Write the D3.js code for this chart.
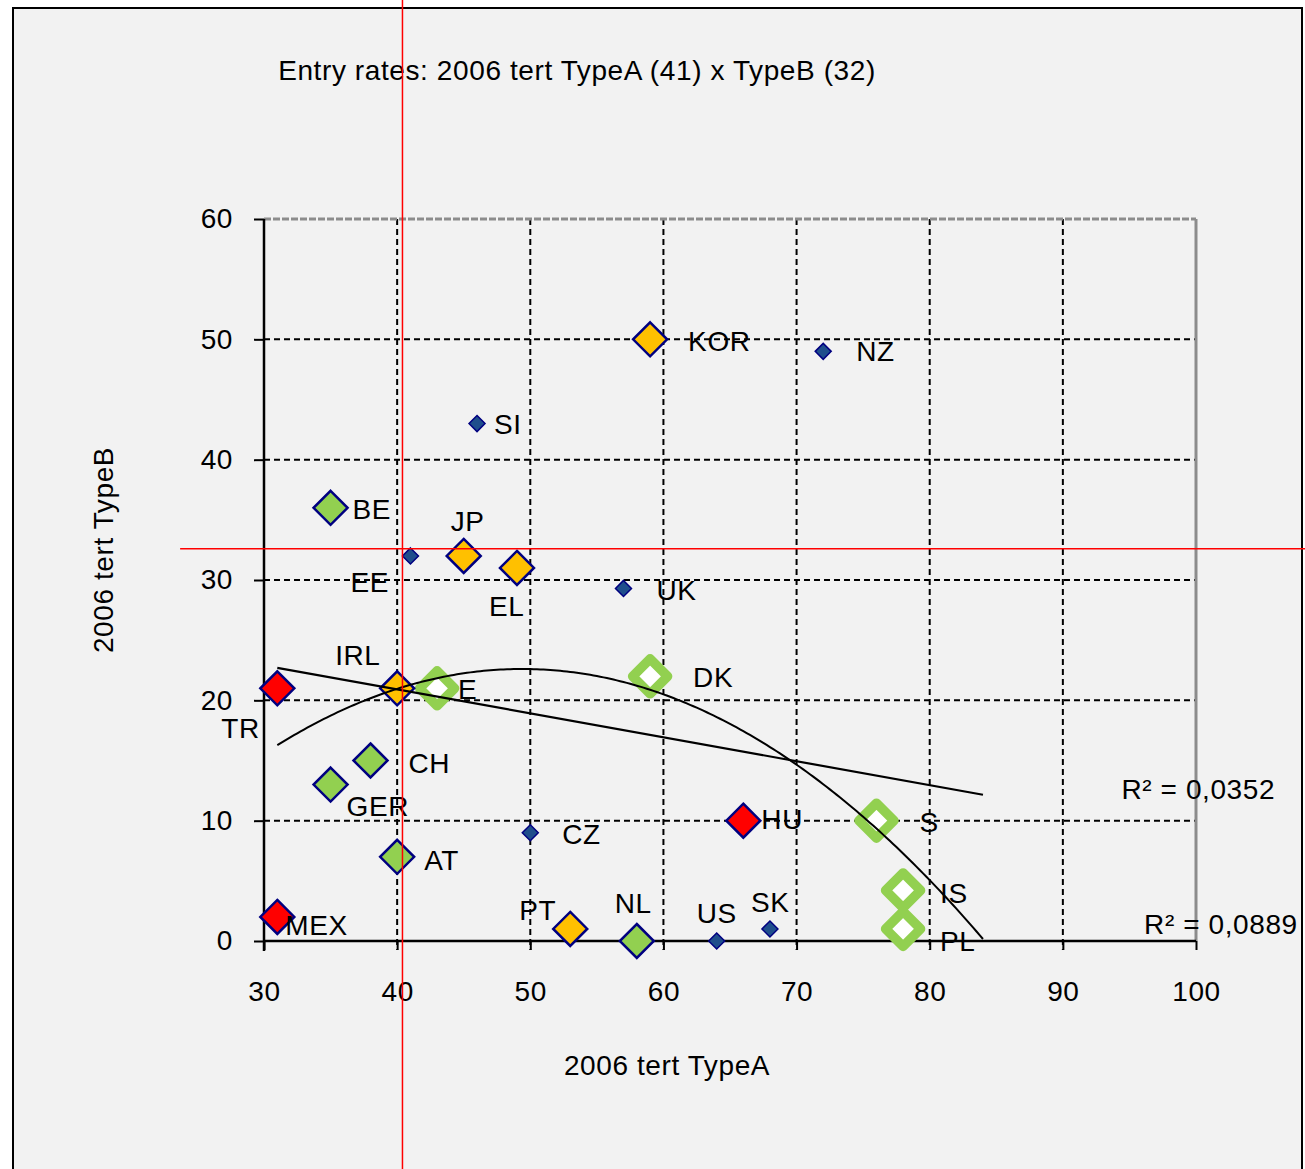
<!DOCTYPE html>
<html><head><meta charset="utf-8">
<script src="https://cdn.jsdelivr.net/npm/d3@7"></script>
<style>
html,body{margin:0;padding:0;background:#fff;}
text{font-family:"Liberation Sans",Arial,sans-serif;fill:#000;}
</style></head>
<body>
<svg id="chart" width="1305" height="1169"></svg>
<script>
// ---- data ----
const titleText = "Entry rates: 2006 tert TypeA (41) x TypeB (32)";
const xTitle = "2006 tert TypeA";
const yTitle = "2006 tert TypeB";
const xTicks = [30,40,50,60,70,80,90,100];
const yTicks = [0,10,20,30,40,50,60];

const orangeNames = ["KOR","JP","EL","IRL","PT"];
const orangeA = [59,45,49,40,53];
const orangeB = [50,32,31,21,1];

const greenNames = ["BE","CH","GER","AT","NL"];
const greenA = [35,38,35,40,58];
const greenB = [36,15,13,7,0];

const redNames = ["TR","HU","MEX"];
const redA = [31,66,31];
const redB = [21,10,2];

const smallNames = ["NZ","SI","EE","UK","CZ","US","SK"];
const smallA = [72,46,41,57,50,64,68];
const smallB = [49,43,32,29.3,9,0,1];

const hollowNames = ["E","DK","S","IS","PL"];
const hollowA = [43,59,76,78,78];
const hollowB = [21,22,10,4.2,1];

// trendlines
const linearCoef = {slope:-0.199, intercept:28.87, x0:31, x1:84};
const polyCoef = {center:50, c0:22.6, c1:-0.02282, c2:-0.018734, x0:31, x1:84.1};
const r2Labels = [{text:"R² = 0,0352", a:94.4, b:12.6},{text:"R² = 0,0889", a:96.1, b:1.4}];
// reference lines (red)
const refA = 40.4, refB = 32.6;

// label offsets (px) relative to marker
const labelOffsets = {
  KOR:[38,2], NZ:[33,0], SI:[17,1], BE:[22,1], EE:[-60,26], JP:[-13,-35], EL:[-28,38],
  UK:[33,2], IRL:[-62,-33], TR:[-56,40], E:[21,1], DK:[43,1], CH:[38,3], GER:[16,22],
  HU:[18,-1], S:[43,2], CZ:[32,1], AT:[27,3], IS:[37,3], PL:[37,12], MEX:[8,8],
  PT:[-51,-19], NL:[-22,-38], US:[-20,-28], SK:[-19,-27]
};

// ---- drawing ----
const svg = d3.select("#chart");
const x = d3.scaleLinear().domain([30,100]).range([264,1196]);
const y = d3.scaleLinear().domain([0,60]).range([941,219]);
const FS = 28;
const LS = "0.6px";

// outer frame
svg.append("rect").attr("x",13).attr("y",8).attr("width",1289).attr("height",1175)
  .attr("fill","#f2f2f2").attr("stroke","#000").attr("stroke-width",2);

// gridlines
const g = svg.append("g");
xTicks.filter(t=>t>30 && t<100).forEach(t=>{
  g.append("line").attr("x1",x(t)).attr("x2",x(t)).attr("y1",y(60)).attr("y2",y(0)+9)
   .attr("stroke","#000").attr("stroke-width",2).attr("stroke-dasharray","6,4");
});
yTicks.filter(t=>t>0 && t<60).forEach(t=>{
  g.append("line").attr("x1",x(30)).attr("x2",x(100)).attr("y1",y(t)).attr("y2",y(t))
   .attr("stroke","#000").attr("stroke-width",2).attr("stroke-dasharray","6,4");
});
// plot border top / right (gray)
g.append("line").attr("x1",x(30)).attr("x2",x(100)).attr("y1",y(60)).attr("y2",y(60))
  .attr("stroke","#8c8c8c").attr("stroke-width",3).attr("stroke-dasharray","7,2");
g.append("line").attr("x1",x(100)).attr("x2",x(100)).attr("y1",y(60)).attr("y2",y(0))
  .attr("stroke","#8c8c8c").attr("stroke-width",3);

// axes
const xAxis = d3.axisBottom(x).tickValues(xTicks).tickSize(9).tickPadding(31).tickFormat(d3.format("d"));
const yAxis = d3.axisLeft(y).tickValues(yTicks).tickSize(10).tickPadding(21).tickFormat(d3.format("d"));
const gx = svg.append("g").attr("transform",`translate(0,${y(0)})`).call(xAxis);
const gy = svg.append("g").attr("transform",`translate(${x(30)},0)`).call(yAxis);
[gx,gy].forEach(a=>{
  a.select(".domain").attr("stroke","#000").attr("stroke-width",2.5);
  a.selectAll(".tick line").attr("stroke","#000").attr("stroke-width",2);
  a.selectAll(".tick text").attr("font-size",FS).attr("font-family","Liberation Sans, Arial, sans-serif")
    .attr("fill","#000").attr("letter-spacing",LS);
});
gx.select(".domain").attr("d",`M${x(30)},0H${x(100)}`);
gy.select(".domain").attr("d",`M0,${y(60)}V${y(0)+10}`);

// markers
function diamond(r){return `M0,${-r}L${r},0L0,${r}L${-r},0Z`;}
function drawSeries(names,A,B,opts){
  names.forEach((n,i)=>{
    svg.append("path").attr("d",diamond(opts.r))
      .attr("transform",`translate(${x(A[i])},${y(B[i])})`)
      .attr("fill",opts.fill).attr("stroke",opts.stroke).attr("stroke-width",opts.sw)
      .attr("stroke-linejoin",opts.join||"miter");
  });
}
drawSeries(hollowNames,hollowA,hollowB,{r:17.5,fill:"#ffffff",stroke:"#92d050",sw:9.5,join:"round"});
drawSeries(greenNames,greenA,greenB,{r:17,fill:"#92d050",stroke:"#000080",sw:2.5});
drawSeries(orangeNames,orangeA,orangeB,{r:17,fill:"#ffc000",stroke:"#000080",sw:2.5});
drawSeries(redNames,redA,redB,{r:17,fill:"#ff0000",stroke:"#000080",sw:2.5});
drawSeries(smallNames,smallA,smallB,{r:8,fill:"#1f4e8c",stroke:"#000080",sw:1.5});

// trendlines
const lin = d3.line().x(d=>x(d[0])).y(d=>y(d[1]));
svg.append("path").attr("d",lin([[linearCoef.x0, linearCoef.slope*linearCoef.x0+linearCoef.intercept],
                                 [linearCoef.x1, linearCoef.slope*linearCoef.x1+linearCoef.intercept]]))
  .attr("stroke","#000").attr("stroke-width",2.2).attr("fill","none");
const polyPts = d3.range(polyCoef.x0, polyCoef.x1+0.001, 0.25).map(a=>{
  const t=a-polyCoef.center; return [a, Math.max(0,polyCoef.c0+polyCoef.c1*t+polyCoef.c2*t*t)];
});
svg.append("path").attr("d",lin(polyPts)).attr("stroke","#000").attr("stroke-width",2).attr("fill","none");

// labels
function drawLabels(names,A,B){
  names.forEach((n,i)=>{
    const o = labelOffsets[n];
    svg.append("text").attr("x",x(A[i])+o[0]).attr("y",y(B[i])+o[1]).attr("dy","0.35em")
      .attr("font-size",FS).attr("letter-spacing",LS).text(n);
  });
}
drawLabels(orangeNames,orangeA,orangeB);
drawLabels(greenNames,greenA,greenB);
drawLabels(redNames,redA,redB);
drawLabels(smallNames,smallA,smallB);
drawLabels(hollowNames,hollowA,hollowB);

r2Labels.forEach(l=>{
  svg.append("text").attr("x",x(l.a)).attr("y",y(l.b)).attr("dy","0.35em").attr("font-size",FS)
    .attr("letter-spacing",LS).text(l.text);
});

// titles
svg.append("text").attr("x",577).attr("y",80).attr("text-anchor","middle").attr("font-size",FS)
  .attr("letter-spacing",LS).text(titleText);
svg.append("text").attr("x",667).attr("y",1075).attr("text-anchor","middle").attr("font-size",FS)
  .attr("letter-spacing",LS).text(xTitle);
svg.append("text").attr("transform","translate(113,550) rotate(-90)").attr("text-anchor","middle").attr("font-size",FS)
  .attr("letter-spacing",LS).text(yTitle);

// red reference lines
svg.append("line").attr("x1",x(refA)).attr("x2",x(refA)).attr("y1",y(79)).attr("y2",y(-20))
  .attr("stroke","#ff0000").attr("stroke-width",1.5);
svg.append("line").attr("x1",x(23.7)).attr("x2",x(110)).attr("y1",y(refB)).attr("y2",y(refB))
  .attr("stroke","#ff0000").attr("stroke-width",1.5);
</script>
</body></html>
